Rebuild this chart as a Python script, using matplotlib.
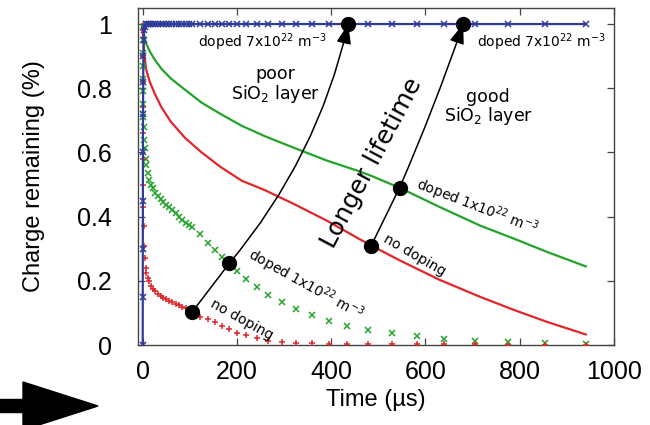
import matplotlib
matplotlib.use("Agg")
import matplotlib.pyplot as plt
from matplotlib.patches import FancyArrow

# sampled points (markers): time in us
t_pts = [0, 0.1, 0.2, 0.35, 0.5, 0.7, 1, 1.4, 2, 3, 4, 6, 8, 11, 14, 18, 22, 27, 32, 38,
         44, 50, 56, 63, 70, 77, 84, 91, 98, 105, 122, 139, 154, 169, 184, 201, 220, 243,
         266, 296, 325, 359, 396, 434, 478, 529, 582, 640, 705, 775, 853, 940]
green_pts = [0.99, 0.95, 0.91, 0.87, 0.83, 0.79, 0.75, 0.71, 0.68, 0.64, 0.615, 0.58, 0.56,
             0.535, 0.515, 0.50, 0.49, 0.475, 0.465, 0.455, 0.445, 0.437, 0.43, 0.42, 0.41,
             0.40, 0.39, 0.38, 0.375, 0.368, 0.345, 0.318, 0.297, 0.275, 0.255, 0.231, 0.206,
             0.181, 0.156, 0.134, 0.112, 0.093, 0.075, 0.059, 0.047, 0.037, 0.027, 0.019,
             0.013, 0.009, 0.006, 0.004]
red_pts = [0.98, 0.90, 0.82, 0.74, 0.66, 0.58, 0.50, 0.43, 0.37, 0.31, 0.27, 0.24, 0.225,
           0.21, 0.198, 0.185, 0.176, 0.168, 0.16, 0.153, 0.147, 0.142, 0.137, 0.133, 0.128,
           0.124, 0.119, 0.114, 0.109, 0.103, 0.088, 0.08, 0.072, 0.06, 0.05, 0.038, 0.03,
           0.022, 0.014, 0.009, 0.006, 0.005, 0.004, 0.003, 0.003, 0.003, 0.002, 0.002,
           0.002, 0.001, 0.001, 0.001]
blue_pts = [0.0, 0.15, 0.3, 0.45, 0.6, 0.72, 0.82, 0.9, 0.95, 0.98, 0.99] + [1.0] * 41

# continuous model curves
t_line = [0, 1, 3, 7, 15, 25, 40, 60, 90, 125, 165, 210, 260, 320, 390, 460, 485, 545,
          630, 716, 790, 858, 940]
green_line = [1.0, 0.985, 0.965, 0.94, 0.915, 0.89, 0.86, 0.83, 0.795, 0.755, 0.72, 0.683,
              0.65, 0.615, 0.575, 0.541, 0.527, 0.49, 0.43, 0.372, 0.33, 0.29, 0.245]
red_line = [1.0, 0.96, 0.91, 0.86, 0.82, 0.785, 0.74, 0.695, 0.645, 0.6, 0.555, 0.512,
            0.482, 0.44, 0.388, 0.33, 0.31, 0.264, 0.203, 0.15, 0.108, 0.072, 0.033]

# points joined by the "poor" and "good" arrows
poor_t = [105, 184, 436]
poor_y = [0.103, 0.255, 1.0]
good_t = [485, 545, 680]
good_y = [0.31, 0.49, 1.0]

xticks = [0, 200, 400, 600, 800, 1000]
yticks = [0, 0.2, 0.4, 0.6, 0.8, 1]
ytick_labels = ["0", "0.2", "0.4", "0.6", "0.8", "1"]

green = "#22a32a"
red = "#e0262b"
blue = "#2e3a9c"
lab_font = "Liberation Sans"

fig = plt.figure(figsize=(6.5, 4.25), dpi=100)
ax = fig.add_axes([0.2123, 0.1882, 0.7323, 0.793])

ax.plot(t_line, green_line, color=green, lw=1.6, zorder=2)
ax.plot(t_line, red_line, color=red, lw=1.6, zorder=2)
ax.plot(t_pts, green_pts, ls="none", marker="x", ms=5, mew=1.1, color=green, zorder=3)
ax.plot(t_pts, red_pts, ls="none", marker="+", ms=5, mew=1.1, color=red, zorder=3)
ax.plot(t_pts, blue_pts, color=blue, lw=1.6, marker="x", ms=4, mew=1.1, zorder=4)

# arrows
ax.plot(poor_t[:2], poor_y[:2], color="black", lw=1.1, zorder=5)
ax.annotate("", xy=(poor_t[2], poor_y[2]), xytext=(poor_t[1], poor_y[1]),
            arrowprops=dict(arrowstyle="-|>,head_length=0.8,head_width=0.3", color="black",
                            lw=1.1, mutation_scale=15, shrinkA=0, shrinkB=0,
                            connectionstyle="arc3,rad=0.12"), zorder=5)
ax.plot(good_t[:2], good_y[:2], color="black", lw=1.1, zorder=5)
ax.annotate("", xy=(good_t[2], good_y[2]), xytext=(good_t[1], good_y[1]),
            arrowprops=dict(arrowstyle="-|>,head_length=0.8,head_width=0.3", color="black",
                            lw=1.1, mutation_scale=15, shrinkA=0, shrinkB=0,
                            connectionstyle="arc3,rad=0.02"), zorder=5)
ax.plot(poor_t, poor_y, ls="none", marker="o", ms=10, color="black", zorder=6)
ax.plot(good_t, good_y, ls="none", marker="o", ms=10, color="black", zorder=6)

# annotations
tk = dict(fontfamily="DejaVu Sans", ha="center", va="center", rotation_mode="anchor")
ax.text(254, 0.944, "doped 7x10$^{22}$ m$^{-3}$", fontsize=10, **tk)
ax.text(847, 0.944, "doped 7x10$^{22}$ m$^{-3}$", fontsize=10, **tk)
ax.text(281, 0.81, "poor\nSiO$_2$ layer", fontsize=12.5, linespacing=0.95, **tk)
ax.text(733, 0.741, "good\nSiO$_2$ layer", fontsize=12.5, linespacing=0.95, **tk)
ax.text(487, 0.567, "Longer lifetime", fontsize=18, rotation=62, **tk)
ax.text(345, 0.187, "doped 1x10$^{22}$ m$^{-3}$", fontsize=10, rotation=-29, **tk)
ax.text(710, 0.43, "doped 1x10$^{22}$ m$^{-3}$", fontsize=10, rotation=-21, **tk)
ax.text(210, 0.078, "no doping", fontsize=10, rotation=-29, **tk)
ax.text(576, 0.28, "no doping", fontsize=10, rotation=-30, **tk)

ax.set_xlim(-10, 1000)
ax.set_ylim(0, 1.05)
ax.set_xticks(xticks)
ax.set_yticks(yticks)
ax.set_yticklabels(ytick_labels)
ax.tick_params(direction="in", top=True, right=True, length=5, width=0.9,
               color="#444444", labelsize=18)
ax.tick_params(axis="x", pad=11)
ax.tick_params(axis="y", pad=19)
for lbl in ax.get_xticklabels() + ax.get_yticklabels():
    lbl.set_fontfamily(lab_font)
for s in ax.spines.values():
    s.set_color("#444444")
    s.set_linewidth(1.0)

ax.set_xlabel("Time (µs)", fontsize=17, fontfamily=lab_font, va="center")
ax.set_ylabel("Charge remaining (%)", fontsize=17, fontfamily=lab_font, va="center")
ax.xaxis.set_label_coords(0.5, -0.163)
ax.yaxis.set_label_coords(-0.218, 0.5)

# big arrow in the lower left corner
fig.add_artist(FancyArrow(-0.1, 0.19, 0.33, 0, width=0.13, head_width=0.48,
                          head_length=0.75, length_includes_head=False,
                          color="black", transform=fig.dpi_scale_trans))

fig.savefig("out.png", dpi=100)
